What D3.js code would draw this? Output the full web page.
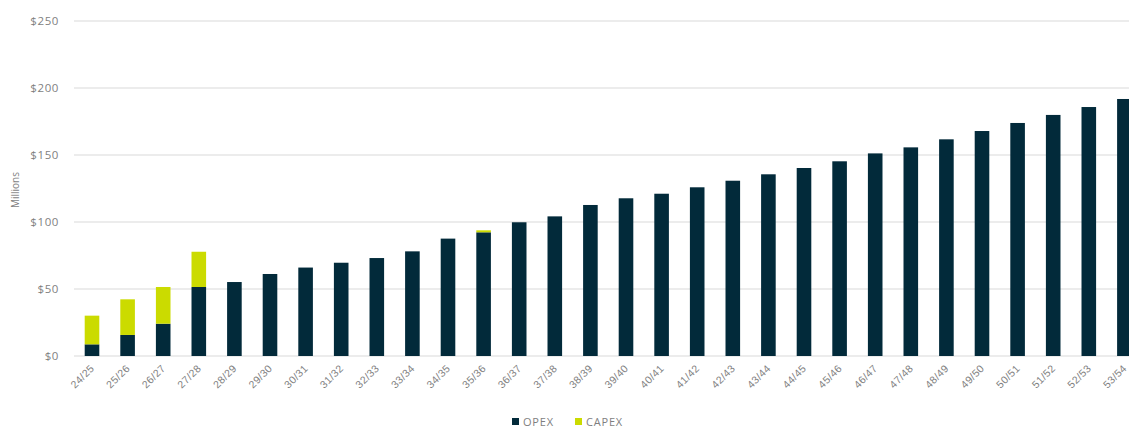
<!DOCTYPE html>
<html><head><meta charset="utf-8">
<script src="https://cdn.jsdelivr.net/npm/d3@7"></script>
<style>
body{margin:0;background:#fff;}
svg{display:block;font-family:"Open Sans",sans-serif;}
</style></head>
<body><svg id="c" width="1129" height="427"></svg>
<script>
const categories = ["24/25","25/26","26/27","27/28","28/29","29/30","30/31","31/32","32/33","33/34","34/35","35/36","36/37","37/38","38/39","39/40","40/41","41/42","42/43","43/44","44/45","45/46","46/47","47/48","48/49","49/50","50/51","51/52","52/53","53/54"];
const opex  = [8.7,15.7,24.1,51.5,55.2,61.2,66,69.6,73.1,78.1,87.6,92.3,99.8,104.2,112.7,117.7,121.1,125.9,130.8,135.6,140.3,145.3,151.2,155.7,161.7,167.9,173.9,179.9,185.8,191.8];
const capex = [21.4,26.6,27.4,26.3,0,0,0,0,0,0,0,1.5,0,0,0,0,0,0,0,0,0,0,0,0,0,0,0,0,0,0];
const yTicks = [0,50,100,150,200,250];
const seriesNames = ["OPEX","CAPEX"];
const colors = {OPEX:"#022a3a", CAPEX:"#cbdb00"};

const svg = d3.select("#c");
const y = d3.scaleLinear().domain([0,250]).range([356,21]);
const x = d3.scaleBand().domain(categories).range([74.2, 74.2 + 35.6*30]).paddingInner(0.59).paddingOuter(0.295);

// gridlines
svg.append("g").selectAll("line").data(yTicks).join("line")
  .attr("x1",74).attr("x2",1129)
  .attr("y1",d=>y(d)).attr("y2",d=>y(d))
  .attr("stroke","#d9d9d9").attr("stroke-width",1);

// y axis labels
const yAxis = d3.axisLeft(y).tickValues(yTicks).tickFormat(d=>"$"+d).tickSize(0).tickPadding(0);
const ya = svg.append("g").attr("transform","translate(59,0)").call(yAxis);
ya.select(".domain").remove();
ya.selectAll("text").attr("fill","#7f7f7f").style("font-size","11.5px").style("letter-spacing","0.6px").attr("font-family","Open Sans");

svg.append("text").attr("transform","translate(19,190) rotate(-90)")
  .attr("text-anchor","middle").attr("fill","#7f7f7f").style("font-size","10px").text("Millions");

// stacked data
const rows = categories.map((c,i)=>({cat:c, OPEX:opex[i], CAPEX:capex[i]}));
const stack = d3.stack().keys(seriesNames)(rows);
svg.append("g").selectAll("g").data(stack).join("g")
  .attr("fill",d=>colors[d.key])
  .selectAll("rect").data(d=>d.filter(p=>p[1]-p[0]>0)).join("rect")
  .attr("x",d=>x(d.data.cat)).attr("width",x.bandwidth())
  .attr("y",d=>y(d[1])).attr("height",d=>y(d[0])-y(d[1]));

// x axis labels
const xAxis = d3.axisBottom(x).tickSize(0).tickPadding(0);
const xa = svg.append("g").attr("transform","translate(0,356)").call(xAxis);
xa.select(".domain").remove();
xa.selectAll("text").attr("fill","#7f7f7f").style("font-size","10.5px").style("letter-spacing","0.4px")
  .attr("text-anchor","end").attr("dy","0").attr("y",0)
  .attr("transform","translate(3,13) rotate(-45)");

// legend
const lg = svg.append("g");
const items = [{k:"OPEX",x:512},{k:"CAPEX",x:575}];
items.forEach(it=>{
  lg.append("rect").attr("x",it.x).attr("y",418).attr("width",7).attr("height",7).attr("fill",colors[it.k]);
  lg.append("text").attr("x",it.x+11).attr("y",425.5).attr("fill","#7f7f7f").style("font-size","11px").style("letter-spacing","0.8px").text(it.k);
});
</script></body></html>
